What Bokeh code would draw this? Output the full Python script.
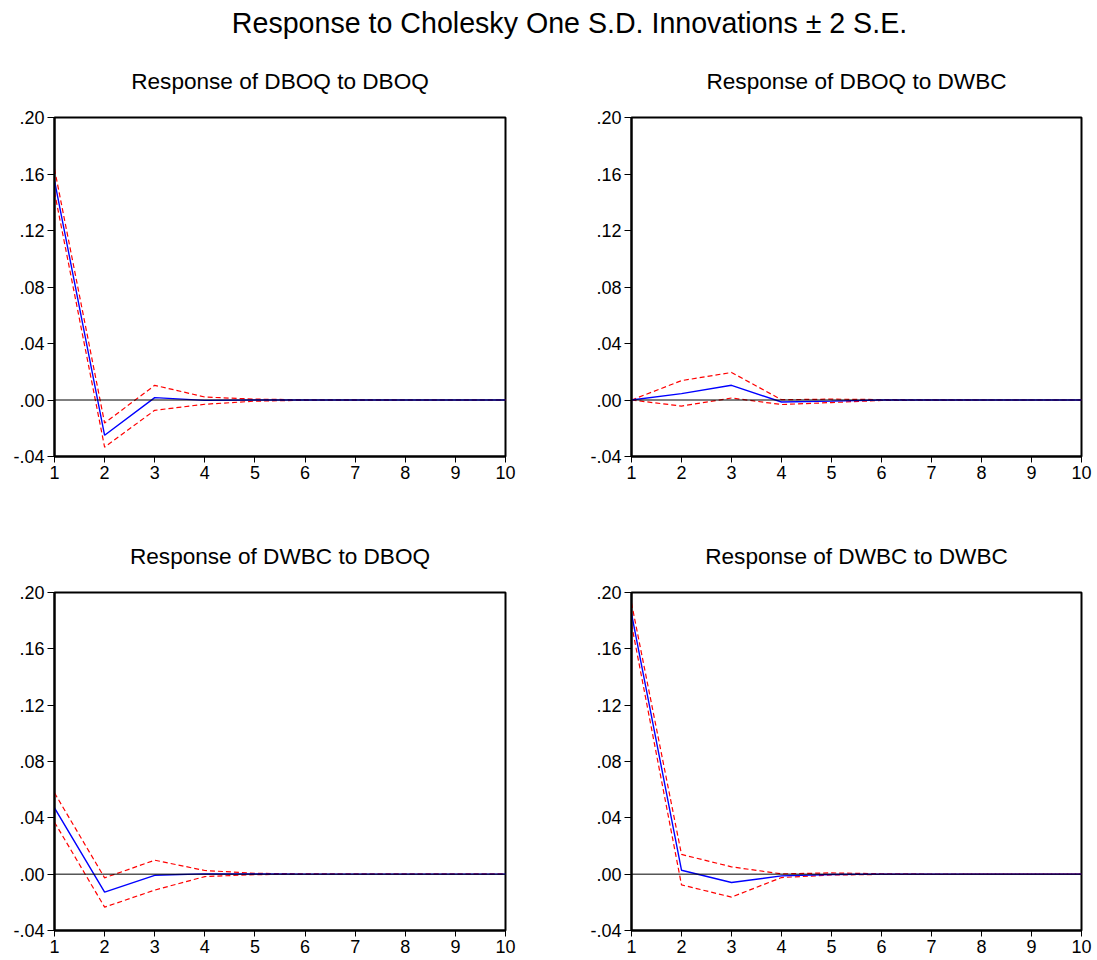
from bokeh.plotting import figure
from bokeh.layouts import column, row
from bokeh.models import Range1d, FixedTicker, CustomJSTickFormatter, Span
from bokeh.core.properties import value
from bokeh.embed import file_html
from bokeh.resources import INLINE

# ---------------- data ----------------
periods = [1, 2, 3, 4, 5, 6, 7, 8, 9, 10]
y_ticks = [-0.04, 0.00, 0.04, 0.08, 0.12, 0.16, 0.20]

main_title = "Response to Cholesky One S.D. Innovations \u00b1 2 S.E."

title_dboq_dboq = "Response of DBOQ to DBOQ"
resp_dboq_dboq = [0.1553, -0.0250, 0.0017, -0.0003, 0.0000, 0.0000, 0.0000, 0.0000, 0.0000, 0.0000]
hi_dboq_dboq = [0.1636, -0.0163, 0.0104, 0.0021, 0.0006, 0.0002, 0.0001, 0.0000, 0.0000, 0.0000]
lo_dboq_dboq = [0.1472, -0.0334, -0.0073, -0.0030, -0.0008, -0.0002, -0.0001, 0.0000, 0.0000, 0.0000]

title_dboq_dwbc = "Response of DBOQ to DWBC"
resp_dboq_dwbc = [0.0000, 0.0045, 0.0104, -0.0014, -0.0008, 0.0000, 0.0000, 0.0000, 0.0000, 0.0000]
hi_dboq_dwbc = [0.0000, 0.0137, 0.0195, 0.0002, 0.0006, 0.0003, 0.0001, 0.0000, 0.0000, 0.0000]
lo_dboq_dwbc = [0.0000, -0.0043, 0.0014, -0.0032, -0.0018, -0.0003, -0.0001, 0.0000, 0.0000, 0.0000]

title_dwbc_dboq = "Response of DWBC to DBOQ"
resp_dwbc_dboq = [0.0470, -0.0128, -0.0008, 0.0002, 0.0001, 0.0000, 0.0000, 0.0000, 0.0000, 0.0000]
hi_dwbc_dboq = [0.0577, -0.0026, 0.0099, 0.0026, 0.0006, 0.0002, 0.0001, 0.0000, 0.0000, 0.0000]
lo_dwbc_dboq = [0.0369, -0.0234, -0.0113, -0.0017, -0.0003, -0.0001, 0.0000, 0.0000, 0.0000, 0.0000]

title_dwbc_dwbc = "Response of DWBC to DWBC"
resp_dwbc_dwbc = [0.1850, 0.0028, -0.0059, -0.0012, -0.0002, 0.0000, 0.0000, 0.0000, 0.0000, 0.0000]
hi_dwbc_dwbc = [0.1925, 0.0140, 0.0052, 0.0002, 0.0009, 0.0003, 0.0001, 0.0000, 0.0000, 0.0000]
lo_dwbc_dwbc = [0.1775, -0.0076, -0.0163, -0.0024, -0.0006, -0.0002, -0.0001, 0.0000, 0.0000, 0.0000]

FONT = "Liberation Sans"


def panel(title, resp, lo, hi, width, height, bl, br, bt, bb):
    p = figure(width=width, height=height,
               x_range=Range1d(1, 10), y_range=Range1d(-0.04, 0.20),
               output_backend="svg", toolbar_location=None,
               min_border_left=bl, min_border_right=br,
               min_border_top=bt, min_border_bottom=bb,
               title=title)
    p.title.align = "center"
    p.title.text_font = FONT
    p.title.text_font_size = "22.6px"
    p.title.text_font_style = "normal"
    p.title.text_color = "black"
    p.title.standoff = 47
    p.xgrid.visible = False
    p.ygrid.visible = False
    p.outline_line_color = "black"
    p.outline_line_width = 2
    p.background_fill_color = "white"
    p.border_fill_color = "white"

    p.xaxis.ticker = FixedTicker(ticks=periods)
    p.yaxis.ticker = FixedTicker(ticks=y_ticks)
    p.yaxis.formatter = CustomJSTickFormatter(
        code="const s = tick.toFixed(2); return s.replace('0.', '.');")
    for ax in (p.xaxis, p.yaxis):
        ax.axis_line_color = "black"
        ax.axis_line_width = 2
        ax.major_tick_line_color = "black"
        ax.major_tick_line_width = 1
        ax.major_tick_in = 0
        ax.minor_tick_line_color = None
        ax.major_label_text_font = FONT
        ax.major_label_text_font_size = "18px"
        ax.major_label_text_color = "black"
    p.xaxis.major_tick_out = 6
    p.xaxis.major_label_standoff = 3
    p.yaxis.major_tick_out = 7
    p.yaxis.major_label_standoff = 3

    p.add_layout(Span(location=0, dimension="width", line_color="black", line_width=1))
    p.line(periods, hi, line_color="#FF0000", line_width=1.2, line_dash="5 3")
    p.line(periods, lo, line_color="#FF0000", line_width=1.2, line_dash="5 3")
    p.line(periods, resp, line_color="#0000FF", line_width=1.4)
    return p


# title strip
tp = figure(width=1093, height=40, x_range=Range1d(0, 1093), y_range=Range1d(0, 40),
            output_backend="svg", toolbar_location=None, min_border=0)
tp.axis.visible = False
tp.xgrid.visible = False
tp.ygrid.visible = False
tp.outline_line_color = None
tp.text(x=[569], y=[18], text=[main_title], text_align="center", text_baseline="middle",
        text_font=value(FONT), text_font_size="28.6px", text_color="black")

W_L, W_R = 560, 533
p1 = panel(title_dboq_dboq, resp_dboq_dboq, lo_dboq_dboq, hi_dboq_dboq, W_L, 475, 54, 55, 77, 59)
p2 = panel(title_dboq_dwbc, resp_dboq_dwbc, lo_dboq_dwbc, hi_dboq_dwbc, W_R, 475, 71, 12, 77, 59)
p3 = panel(title_dwbc_dboq, resp_dwbc_dboq, lo_dwbc_dboq, hi_dwbc_dboq, W_L, 444, 54, 55, 77, 29)
p4 = panel(title_dwbc_dwbc, resp_dwbc_dwbc, lo_dwbc_dwbc, hi_dwbc_dwbc, W_R, 444, 71, 12, 77, 29)

layout = column(tp, row(p1, p2), row(p3, p4))
open("out.html", "w").write(file_html(layout, INLINE))
